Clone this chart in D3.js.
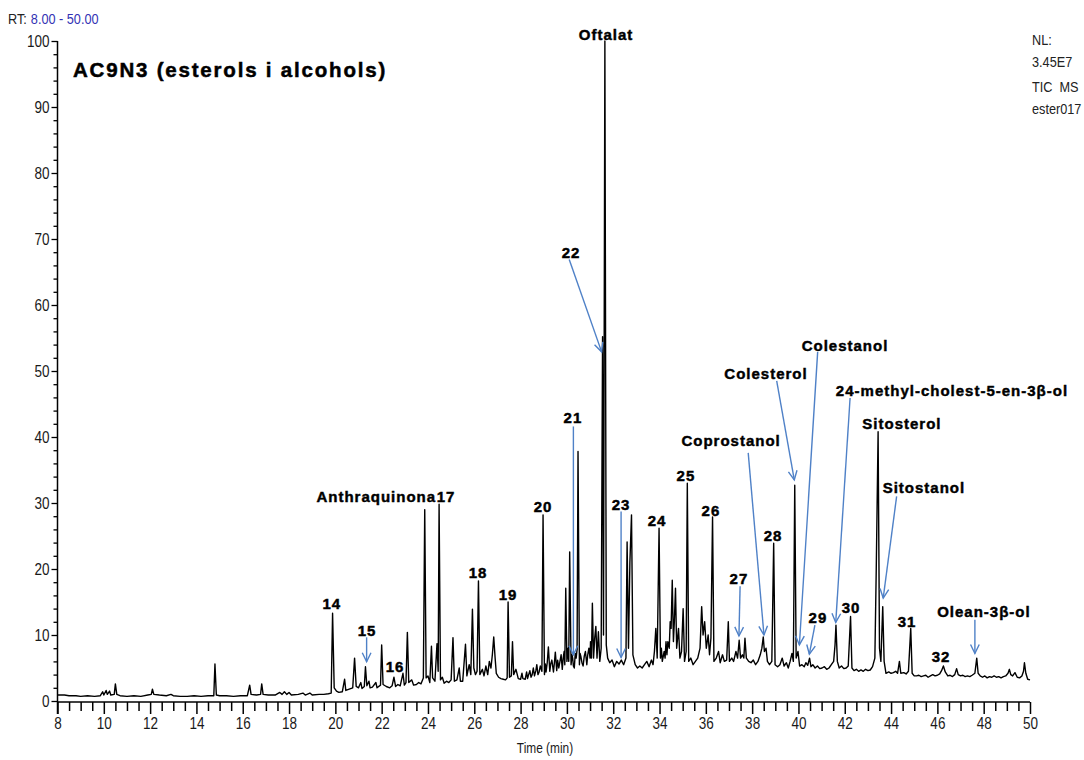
<!DOCTYPE html>
<html>
<head>
<meta charset="utf-8">
<script src="https://cdn.jsdelivr.net/npm/d3@7"></script>
<style>
  html, body { margin: 0; padding: 0; background: #fff; }
  svg { display: block; }
  .lbl { font-family: 'Liberation Sans', Arial, sans-serif; font-weight: bold; font-size: 15px; letter-spacing: 1px; fill: #000; stroke: #000; stroke-width: 0.45px; }
</style>
</head>
<body>
<svg id="chart" width="1084" height="760"></svg>
<script>
// ---- data ----
const chartTitle = "AC9N3 (esterols i alcohols)";
const rtRange = [8, 50];
const infoLines = ["NL:", "3.45E7", "TIC\u00a0 MS", "ester017"];
const xTickValues = [8, 10, 12, 14, 16, 18, 20, 22, 24, 26, 28, 30, 32, 34, 36, 38, 40, 42, 44, 46, 48, 50];
const yTickValues = [0, 10, 20, 30, 40, 50, 60, 70, 80, 90, 100];

// chromatogram trace: [retention time (min), relative abundance (%)]
const tracePoints = [
 [8.0,0.9],[8.3,0.9],[8.5,0.8],[8.8,0.8],[9.0,0.7],[9.3,0.8],[9.6,0.7],[9.85,0.8],[9.95,1.4],[10.0,0.9],[10.1,1.6],[10.15,1.0],[10.25,1.5],[10.3,0.9],[10.45,1.0],[10.5,2.6],[10.56,1.0],[10.7,0.8],[11.0,0.7],[11.3,0.8],[11.6,0.7],[11.9,0.9],[12.05,1.0],[12.1,1.8],[12.16,1.0],[12.4,0.9],[12.7,0.8],[12.9,1.0],[13.0,0.8],[13.3,0.7],[13.6,0.7],[13.9,0.8],[14.2,0.7],[14.5,0.8],[14.75,0.8],[14.8,5.6],[14.86,0.9],[15.0,0.8],[15.3,0.8],[15.6,0.7],[15.9,0.8],[16.2,0.8],[16.3,2.4],[16.36,1.0],[16.6,0.9],[16.77,1.0],[16.82,2.6],[16.88,1.0],[17.1,0.9],[17.4,0.9],[17.6,1.3],[17.7,1.0],[17.8,1.4],[17.9,1.0],[18.0,1.3],[18.1,0.9],[18.4,1.0],[18.6,1.2],[18.7,0.9],[18.9,1.2],[19.0,0.9],[19.3,1.0],[19.5,1.0],[19.7,1.1],[19.82,1.2],[19.88,13.3],[19.95,2.0],[20.05,1.5],[20.15,1.3],
 [20.3,1.4],[20.4,3.3],[20.45,1.6],[20.6,1.8],[20.75,2.0],[20.83,6.5],[20.9,2.2],[21.0,2.0],[21.1,2.8],[21.15,1.9],[21.25,2.2],[21.3,5.2],[21.36,2.3],[21.45,3.0],[21.5,2.0],[21.6,2.1],[21.75,2.8],[21.8,2.0],[21.95,2.4],[22.0,8.5],[22.06,2.5],[22.2,2.2],[22.35,2.0],[22.45,2.3],[22.53,3.6],[22.6,2.2],[22.7,2.5],[22.8,2.3],[22.92,4.2],[22.98,2.4],[23.05,2.8],[23.11,10.4],[23.17,2.8],[23.3,3.2],[23.38,2.4],[23.5,2.5],[23.6,2.8],[23.7,2.6],[23.8,3.5],[23.86,29.0],[23.92,3.5],[24.0,3.8],[24.08,2.8],[24.15,8.3],[24.2,3.5],[24.3,3.0],[24.39,8.7],[24.44,4.5],[24.48,29.8],[24.54,3.2],[24.62,3.6],[24.7,2.7],[24.8,3.0],[24.9,2.8],[25.0,3.2],[25.08,9.6],[25.14,3.0],[25.25,3.2],[25.35,5.0],[25.4,3.0],[25.5,3.0],[25.62,8.6],[25.68,3.8],[25.78,5.5],[25.85,4.0],[25.92,13.9],[25.98,5.0],[26.05,4.0],[26.12,4.5],[26.18,18.2],[26.24,4.0],[26.35,4.8],[26.42,3.8],[26.5,5.3],[26.58,4.0],[26.65,6.0],[26.72,5.0],[26.78,7.0],[26.84,9.7],[26.9,6.5],[26.95,4.2],[27.05,3.6],[27.15,3.4],[27.25,3.3],[27.35,3.2],[27.42,3.5],[27.46,15.0],[27.52,3.6],[27.6,3.8],[27.65,9.0],[27.7,4.0],[27.8,4.8],[27.9,3.4],
 [28.0,3.3],[28.06,4.2],[28.1,3.4],[28.2,3.3],[28.26,4.4],[28.3,3.4],[28.4,4.6],[28.45,3.6],[28.5,4.0],[28.55,5.0],[28.6,3.8],[28.66,4.6],[28.7,5.5],[28.75,4.0],[28.8,4.4],[28.85,5.3],[28.92,4.5],[28.97,28.2],[29.03,4.0],[29.07,5.6],[29.1,4.4],[29.15,5.8],[29.2,8.2],[29.26,4.5],[29.3,5.6],[29.35,6.2],[29.42,4.4],[29.46,5.8],[29.5,7.4],[29.56,4.6],[29.6,6.2],[29.65,5.0],[29.7,6.0],[29.75,7.0],[29.8,4.8],[29.84,6.5],[29.88,7.5],[29.91,5.5],[29.95,17.1],[30.0,6.0],[30.05,8.0],[30.08,6.0],[30.12,22.6],[30.18,5.5],[30.22,7.0],[30.25,6.5],[30.28,5.3],[30.32,5.0],[30.36,7.2],[30.4,6.5],[30.44,7.8],[30.48,37.8],[30.54,5.5],[30.57,7.2],[30.6,6.8],[30.65,5.8],[30.7,5.3],[30.75,6.8],[30.8,7.5],[30.86,5.5],[30.9,7.0],[30.95,8.0],[31.0,6.5],[31.02,9.0],[31.06,6.5],[31.1,14.8],[31.15,6.5],[31.2,9.5],[31.25,11.3],[31.3,6.5],[31.36,10.5],[31.42,6.0],[31.48,8.0],[31.54,55.2],[31.58,10.0],[31.64,100],[31.7,8.5],[31.76,6.5],[31.85,5.8],[31.95,6.2],[32.05,5.2],[32.15,6.0],[32.25,5.6],[32.35,6.2],[32.45,5.5],[32.55,6.5],[32.6,24.1],[32.66,8.0],[32.72,21.0],[32.79,28.2],[32.85,7.0],[32.95,5.5],[33.05,5.0],[33.15,5.3],[33.25,5.0],[33.35,5.5],[33.45,6.0],[33.55,5.2],[33.65,6.2],[33.72,5.5],[33.78,7.5],[33.84,11.0],[33.9,6.5],[33.98,26.2],[34.04,6.5],[34.08,8.0],[34.12,6.0],[34.2,7.5],[34.24,6.5],[34.28,9.0],[34.32,7.0],[34.36,9.0],[34.42,8.0],[34.46,12.0],[34.5,11.0],[34.55,18.3],[34.6,9.0],[34.64,12.0],[34.69,17.1],[34.74,8.0],[34.78,9.5],[34.82,11.0],[34.88,6.5],[34.95,7.5],[35.02,14.0],[35.08,6.0],[35.15,7.5],[35.2,33.0],[35.26,6.0],[35.35,6.5],[35.45,5.5],[35.55,6.0],[35.65,6.5],[35.75,8.0],[35.82,14.3],[35.88,10.0],[35.95,12.0],[36.02,8.0],[36.1,10.0],[36.16,7.0],[36.22,9.5],[36.29,27.9],[36.35,6.0],[36.45,6.5],[36.55,7.5],[36.62,5.8],[36.72,7.0],[36.8,6.0],[36.9,6.2],[36.97,12.0],[37.02,6.0],[37.12,6.5],[37.2,6.0],[37.3,7.5],[37.37,6.5],[37.44,9.2],[37.5,6.5],[37.58,7.0],[37.64,6.5],[37.69,9.5],[37.75,6.5],[37.85,6.0],[37.95,5.8],[38.05,6.2],[38.15,5.5],[38.25,6.0],[38.35,7.0],[38.42,8.0],[38.48,9.7],[38.53,7.5],[38.6,8.0],[38.66,6.0],[38.75,5.5],[38.85,6.0],[38.93,23.9],[38.99,5.5],[39.1,5.2],[39.2,5.5],[39.3,6.5],[39.38,5.3],[39.48,5.8],[39.56,5.0],[39.64,6.0],[39.72,7.2],[39.78,6.0],[39.84,32.7],[39.9,6.5],[39.98,7.5],[40.05,5.3],[40.15,5.5],[40.25,5.2],[40.32,5.8],[40.4,5.4],[40.48,6.5],[40.54,5.2],[40.62,5.5],[40.72,5.0],[40.82,5.3],[40.92,4.9],[41.02,5.0],[41.12,5.2],[41.22,4.8],[41.32,5.0],[41.42,5.5],[41.52,6.0],[41.58,8.5],[41.62,11.5],[41.68,6.0],[41.76,5.0],[41.86,5.3],[41.96,4.9],[42.06,5.0],[42.15,5.3],[42.25,12.8],[42.31,5.0],[42.4,4.6],[42.5,4.8],[42.6,4.5],[42.7,4.7],[42.8,4.5],[42.9,4.8],[43.0,4.6],[43.1,4.7],[43.2,5.2],[43.3,6.5],[43.36,20.0],[43.44,40.8],[43.5,8.0],[43.56,6.0],[43.64,14.3],[43.7,6.0],[43.78,4.2],[43.9,4.4],[44.0,4.2],[44.1,4.3],[44.2,4.5],[44.28,4.2],[44.36,6.0],[44.42,4.2],[44.55,4.3],[44.65,4.1],[44.75,4.5],[44.85,11.0],[44.91,4.2],[45.0,3.8],[45.1,3.8],[45.2,3.9],[45.3,3.7],[45.4,3.8],[45.5,3.9],[45.6,3.6],[45.7,3.8],[45.8,4.0],[45.9,3.8],[46.0,3.9],[46.1,4.1],[46.18,4.6],[46.26,5.3],[46.34,4.4],[46.45,3.8],[46.55,3.9],[46.65,3.7],[46.75,4.0],[46.83,4.9],[46.9,4.0],[47.0,3.8],[47.1,3.9],[47.2,3.7],[47.3,3.8],[47.4,3.7],[47.5,3.9],[47.62,4.2],[47.7,6.5],[47.76,4.2],[47.85,3.8],[47.95,3.6],[48.05,3.8],[48.15,3.5],[48.25,3.7],[48.35,3.6],[48.45,3.8],[48.55,3.6],[48.65,3.7],[48.75,3.5],[48.85,3.7],[48.95,3.8],[49.05,4.2],[49.11,4.8],[49.17,4.0],[49.25,3.8],[49.35,4.3],[49.45,3.6],[49.55,3.5],[49.65,3.8],[49.72,4.5],[49.76,5.8],[49.82,4.2],[49.9,3.3],[50.0,3.2]
];

// peak labels: [text, rt, abundance, anchor]
const peakLabels = [
 ["Oftalat", 31.69, 101.0, "middle"],
 ["14", 19.85, 14.7, "middle"],
 ["15", 21.37, 10.6, "middle"],
 ["16", 22.58, 5.15, "middle"],
 ["Anthraquinona", 24.35, 30.9, "end"],
 ["17", 24.78, 30.9, "middle"],
 ["18", 26.16, 19.4, "middle"],
 ["19", 27.46, 16.1, "middle"],
 ["20", 28.97, 29.4, "middle"],
 ["21", 30.26, 42.9, "middle"],
 ["22", 30.18, 68.0, "middle"],
 ["23", 32.34, 29.7, "middle"],
 ["24", 33.89, 27.3, "middle"],
 ["25", 35.14, 34.1, "middle"],
 ["26", 36.22, 28.8, "middle"],
 ["27", 37.43, 18.5, "middle"],
 ["Coprostanol", 37.09, 39.4, "middle"],
 ["28", 38.90, 25.0, "middle"],
 ["Colesterol", 38.60, 49.55, "middle"],
 ["Colestanol", 42.01, 53.9, "middle"],
 ["29", 40.84, 12.7, "middle"],
 ["30", 42.27, 14.1, "middle"],
 ["24-methyl-cholest-5-en-3\u03b2-ol", 46.63, 47.0, "middle"],
 ["Sitosterol", 44.47, 42.1, "middle"],
 ["Sitostanol", 45.42, 32.3, "middle"],
 ["31", 44.69, 12.1, "middle"],
 ["32", 46.16, 6.7, "middle"],
 ["Olean-3\u03b2-ol", 48.01, 13.5, "middle"]
];

// annotation arrows: [rt start, abundance start, rt tip, abundance tip]
const arrowLines = [
 [30.10, 66.9, 31.50, 52.9],
 [30.28, 41.6, 30.28, 7.0],
 [32.34, 28.7, 32.34, 6.6],
 [21.35, 9.65, 21.35, 5.95],
 [37.48, 17.4, 37.43, 9.85],
 [37.83, 37.6, 38.51, 10.0],
 [39.06, 48.5, 39.82, 33.5],
 [40.83, 52.9, 40.04, 8.5],
 [40.71, 11.5, 40.47, 7.1],
 [42.23, 45.9, 41.61, 11.9],
 [44.24, 31.0, 43.66, 15.6],
 [47.62, 12.3, 47.62, 7.2]
];

// ---- drawing ----
const svg = d3.select("#chart");
const x = d3.scaleLinear().domain(rtRange).range([57.5, 1030]);
const y = d3.scaleLinear().domain([0, 100]).range([701, 41]);

const baseFont = "'Liberation Sans', Arial, sans-serif";
const narrowRatio = 0.82;   // emulate Arial Narrow via horizontal scaling

// narrow text helper: group translated to (px,py), scaled horizontally
function narrowText(px, py, str, opts = {}) {
  const g = svg.append("g").attr("transform", `translate(${px},${py}) scale(${narrowRatio},1)`);
  return g.append("text")
    .attr("x", 0).attr("y", 0)
    .attr("text-anchor", opts.anchor || "start")
    .style("font-family", baseFont)
    .style("font-size", (opts.size || 15) + "px")
    .attr("fill", opts.fill || "#222")
    .text(str);
}

// RT header
const rtLead = narrowText(8, 24, "RT:", { size: 15.5, fill: "#222" });
const rtLeadW = rtLead.node().getComputedTextLength() * narrowRatio;
narrowText(8 + rtLeadW + 4, 24, d3.format(".2f")(rtRange[0]) + " - " + d3.format(".2f")(rtRange[1]),
  { size: 15.5, fill: "#3232b4" });

// info text top-right
const infoY = [45, 67, 92, 114];
infoLines.forEach((s, i) => narrowText(1032, infoY[i], s, { size: 15.5, fill: "#222" }));

// title
svg.append("text").attr("x", 73).attr("y", 77)
  .style("font-family", baseFont)
  .style("font-weight", "bold").style("font-size", "20.5px").style("letter-spacing", "1.8px")
  .attr("stroke", "#000").attr("stroke-width", 0.5)
  .attr("fill", "#000").text(chartTitle);

// axes
const xAxis = d3.axisBottom(x).tickValues(d3.range(8, 50.01, 0.5)).tickSize(8)
  .tickFormat(d => xTickValues.includes(d) ? d : "");
const gx = svg.append("g").attr("transform", `translate(0,${y(0) + 1})`).call(xAxis);
gx.select(".domain").attr("stroke", "#000").attr("stroke-width", 1.5).attr("d", `M${x(8)},0H${x(50)}`);
gx.selectAll(".tick line").attr("stroke", "#000").attr("stroke-width", 1.5)
  .attr("y2", d => xTickValues.includes(d) ? 12 : 9);
gx.selectAll(".tick text").attr("y", 15).attr("x", 0).attr("fill", "#1a1a1a")
  .attr("transform", `scale(${narrowRatio},1)`)
  .style("font-family", baseFont).style("font-size", "16.5px");

const yAxis = d3.axisLeft(y).tickValues(d3.range(0, 100.01, 2)).tickSize(4)
  .tickFormat(d => yTickValues.includes(d) ? d : "");
const gy = svg.append("g").attr("transform", `translate(${x(8)},0)`).call(yAxis);
gy.select(".domain").attr("stroke", "#000").attr("stroke-width", 1.5).attr("d", `M0,${y(100)}V${y(0) + 13}`);
gy.selectAll(".tick line").attr("stroke", "#000").attr("stroke-width", 1.3)
  .attr("x2", d => yTickValues.includes(d) ? -6 : -4);
gy.selectAll(".tick text").attr("x", -8 / narrowRatio).attr("fill", "#1a1a1a")
  .attr("transform", `scale(${narrowRatio},1)`)
  .style("font-family", baseFont).style("font-size", "16.5px");

narrowText(545, 753, "Time (min)", { anchor: "middle", size: 14.5, fill: "#1a1a1a" });

// trace
const line = d3.line().x(d => x(d[0])).y(d => y(d[1]));
svg.append("path").datum(tracePoints)
  .attr("d", line).attr("fill", "none").attr("stroke", "#000").attr("stroke-width", 1.4)
  .attr("stroke-linejoin", "round");

// arrows
const arrowColor = "#4f81c7";
const ga = svg.append("g").attr("stroke", arrowColor).attr("stroke-width", 1.4).attr("fill", "none");
arrowLines.forEach(a => {
  const x1 = x(a[0]), y1 = y(a[1]), x2 = x(a[2]), y2 = y(a[3]);
  const ang = Math.atan2(y2 - y1, x2 - x1);
  const L = 10, w = 0.45;
  const p1 = [x2 - L * Math.cos(ang - w), y2 - L * Math.sin(ang - w)];
  const p2 = [x2 - L * Math.cos(ang + w), y2 - L * Math.sin(ang + w)];
  ga.append("line").attr("x1", x1).attr("y1", y1).attr("x2", x2).attr("y2", y2);
  ga.append("path").attr("d", `M${p1[0]},${p1[1]}L${x2},${y2}L${p2[0]},${p2[1]}`);
});

// labels
svg.append("g").selectAll("text").data(peakLabels).join("text")
  .attr("class", "lbl")
  .attr("x", d => x(d[1]))
  .attr("y", d => y(d[2]))
  .attr("dy", "0.36em")
  .attr("text-anchor", d => d[3])
  .text(d => d[0]);
</script>
</body>
</html>
